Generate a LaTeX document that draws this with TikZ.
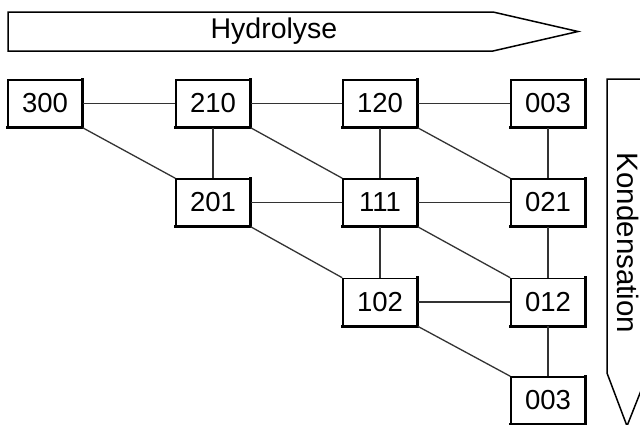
\documentclass[tikz,border=0pt]{standalone}
\usepackage{fontspec}
\setmainfont{Liberation Sans}
\begin{document}
\begin{tikzpicture}[x=1pt,y=1pt,
  box/.style={draw=black, line width=1.6pt, fill=white, minimum width=74pt, minimum height=47pt,
    inner sep=0pt, font=\fontsize{27.5}{32}\selectfont,
    append after command={\pgfextra{\let\boxname\tikzlastnode}
      (\boxname.south west) edge[line width=3.2pt, line cap=rect, draw=black] (\boxname.south east)
      (\boxname.south east) edge[line width=3.2pt, line cap=rect, draw=black] (\boxname.north east)}},
  link/.style={draw=black!80, line width=1.3pt},
  bigarrow/.style={draw=black, line width=1.5pt, line join=miter, fill=white},
  lbl/.style={font=\fontsize{28.5}{32}\selectfont, inner sep=0pt}]
\useasboundingbox (0,0) rectangle (640,-424);
\clip (0,0) rectangle (640,-424);
\fill[white] (0,0) rectangle (640,-424);
% arrows
\draw[bigarrow] (8,-12) -- (493,-12) -- (578,-31.5) -- (493,-51) -- (8,-51) -- cycle;
\node[lbl] (hyd) at (274,-31.5) {Hydrolyse};
\draw[bigarrow] (607,-79) -- (648,-79) -- (648,-373) -- (627,-426) -- (607,-373) -- cycle;
\node[lbl, rotate=-90, font=\fontsize{29.5}{32}\selectfont] (kon) at (628,-243) {Kondensation};
\path
  (45,-103.5) coordinate (p300)
  (213,-103.5) coordinate (p210)
  (380,-103.5) coordinate (p120)
  (548,-103.5) coordinate (p003a)
  (213,-202.5) coordinate (p201)
  (380,-202.5) coordinate (p111)
  (548,-202.5) coordinate (p021)
  (380,-302) coordinate (p102)
  (548,-302) coordinate (p012)
  (548,-400.5) coordinate (p003b);
\node[box] (n300) at (p300) {300};
\node[box] (n210) at (p210) {210};
\node[box] (n120) at (p120) {120};
\node[box] (n003a) at (p003a) {003};
\node[box] (n201) at (p201) {201};
\node[box] (n111) at (p111) {111};
\node[box] (n021) at (p021) {021};
\node[box] (n102) at (p102) {102};
\node[box] (n012) at (p012) {012};
\node[box] (n003b) at (p003b) {003};
% horizontal
\draw[link] (n300) -- (n210);
\draw[link] (n210) -- (n120);
\draw[link] (n120) -- (n003a);
\draw[link] (n201) -- (n111);
\draw[link] (n111) -- (n021);
\draw[link] (n102) -- (n012);
% vertical
\draw[link] (n210) -- (n201);
\draw[link] (n120) -- (n111);
\draw[link] (n003a) -- (n021);
\draw[link] (n111) -- (n102);
\draw[link] (n021) -- (n012);
\draw[link] (n012) -- (n003b);
% diagonal
\draw[link] (n300.south east) -- (n201.north west);
\draw[link] (n210.south east) -- (n111.north west);
\draw[link] (n120.south east) -- (n021.north west);
\draw[link] (n201.south east) -- (n102.north west);
\draw[link] (n111.south east) -- (n012.north west);
\draw[link] (n102.south east) -- (n003b.north west);
\end{tikzpicture}
\end{document}
